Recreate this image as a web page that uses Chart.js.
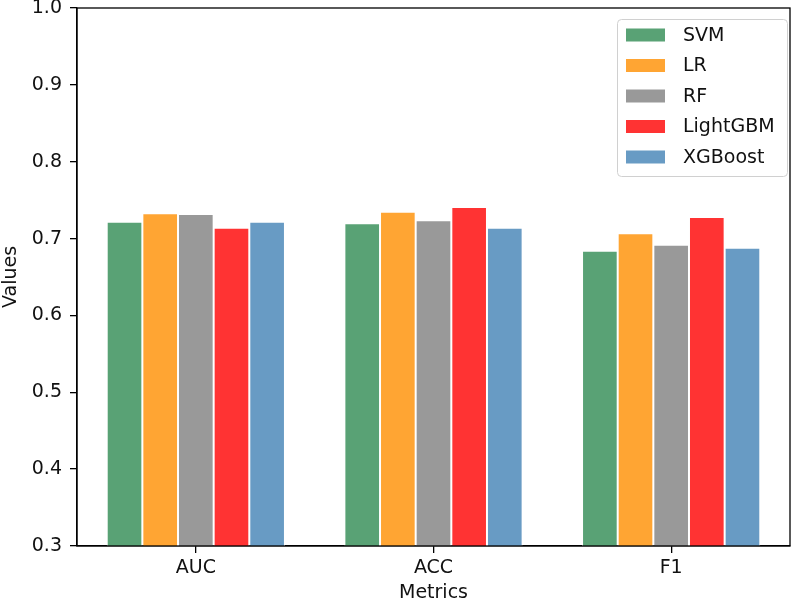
<!DOCTYPE html>
<html>
<head>
<meta charset="utf-8">
<script src="https://cdn.jsdelivr.net/npm/chart.js@4.4.1/dist/chart.umd.min.js"></script>
<style>
  html, body { margin: 0; padding: 0; background: #fff; }
  #wrap { width: 800px; height: 604px; }
</style>
</head>
<body>
<div id="wrap"><canvas id="c" width="800" height="604"></canvas></div>
<script>
const categories = ['AUC', 'ACC', 'F1'];
const models = ['SVM', 'LR', 'RF', 'LightGBM', 'XGBoost'];
const svmValues      = [0.722, 0.720, 0.684];
const lrValues       = [0.733, 0.735, 0.707];
const rfValues       = [0.732, 0.724, 0.692];
const lightgbmValues = [0.714, 0.741, 0.728];
const xgboostValues  = [0.722, 0.714, 0.688];
const yTicks = [0.3, 0.4, 0.5, 0.6, 0.7, 0.8, 0.9, 1.0];

const colors = ['#59a275', '#ffa533', '#999999', '#ff3333', '#689bc4'];
const seriesValues = [svmValues, lrValues, rfValues, lightgbmValues, xgboostValues];

const FONT = 'DejaVu Sans';

const frameAndLegend = {
  id: 'frameAndLegend',
  afterDraw(chart) {
    const ctx = chart.ctx;
    const a = chart.chartArea;
    ctx.save();
    ctx.strokeStyle = '#000';
    ctx.lineWidth = 1.3;
    ctx.strokeRect(a.left, a.top, a.right - a.left, a.bottom - a.top);

    // legend
    const bx = a.right - 173, by = a.top + 11, bw = 170, bh = 157;
    ctx.fillStyle = 'rgba(255,255,255,0.8)';
    ctx.strokeStyle = '#d0d0d0';
    ctx.lineWidth = 1;
    ctx.beginPath();
    ctx.roundRect(bx + 0.5, by + 0.5, bw, bh, 4);
    ctx.fill();
    ctx.stroke();
    ctx.font = '19px "' + FONT + '"';
    ctx.textBaseline = 'middle';
    ctx.textAlign = 'left';
    chart.data.datasets.forEach((ds, i) => {
      const cy = by + 16 + i * 30.5;
      ctx.fillStyle = ds.backgroundColor;
      ctx.fillRect(bx + 9, cy - 6.5, 39, 13);
      ctx.fillStyle = '#111';
      ctx.fillText(ds.label, bx + 66, cy + 1);
    });
    ctx.restore();
  }
};

new Chart(document.getElementById('c'), {
  type: 'bar',
  data: {
    labels: categories,
    datasets: models.map((m, i) => ({
      label: m,
      data: seriesValues[i],
      backgroundColor: colors[i],
      borderColor: '#ffffff',
      borderWidth: 1,
      categoryPercentage: 0.75,
      barPercentage: 1.0
    }))
  },
  options: {
    responsive: false,
    animation: false,
    layout: { padding: { left: 0, top: 8, right: 10, bottom: 0 } },
    plugins: {
      legend: { display: false },
      tooltip: { enabled: false }
    },
    scales: {
      x: {
        grid: { display: true, offset: false, drawOnChartArea: false, drawTicks: true, tickLength: 7, color: '#000', lineWidth: 1.3 },
        border: { display: true, color: '#000', width: 1.3 },
        ticks: { color: '#111', font: { family: FONT, size: 19 }, padding: 4 },
        title: { display: true, text: 'Metrics', color: '#111', font: { family: FONT, size: 19 }, padding: { top: 0, bottom: 0 } },
        afterFit(scale) { scale.height = 58; scale.paddingLeft = 0; scale.paddingRight = 0; }
      },
      y: {
        min: 0.3,
        max: 1.0,
        grid: { display: true, drawOnChartArea: false, drawTicks: true, tickLength: 7, color: '#000', lineWidth: 1.3 },
        border: { display: true, color: '#000', width: 1.3 },
        afterBuildTicks(scale) { scale.ticks = yTicks.map(v => ({ value: v })); },
        ticks: {
          color: '#111',
          font: { family: FONT, size: 19 },
          padding: 8,
          callback: (v) => Number(v).toFixed(1)
        },
        title: { display: true, text: 'Values', color: '#111', font: { family: FONT, size: 19 }, padding: { top: 0, bottom: 0 } },
        afterFit(scale) { scale.width = 77; scale.paddingTop = 0; scale.paddingBottom = 0; }
      }
    }
  },
  plugins: [frameAndLegend]
});
</script>
</body>
</html>
